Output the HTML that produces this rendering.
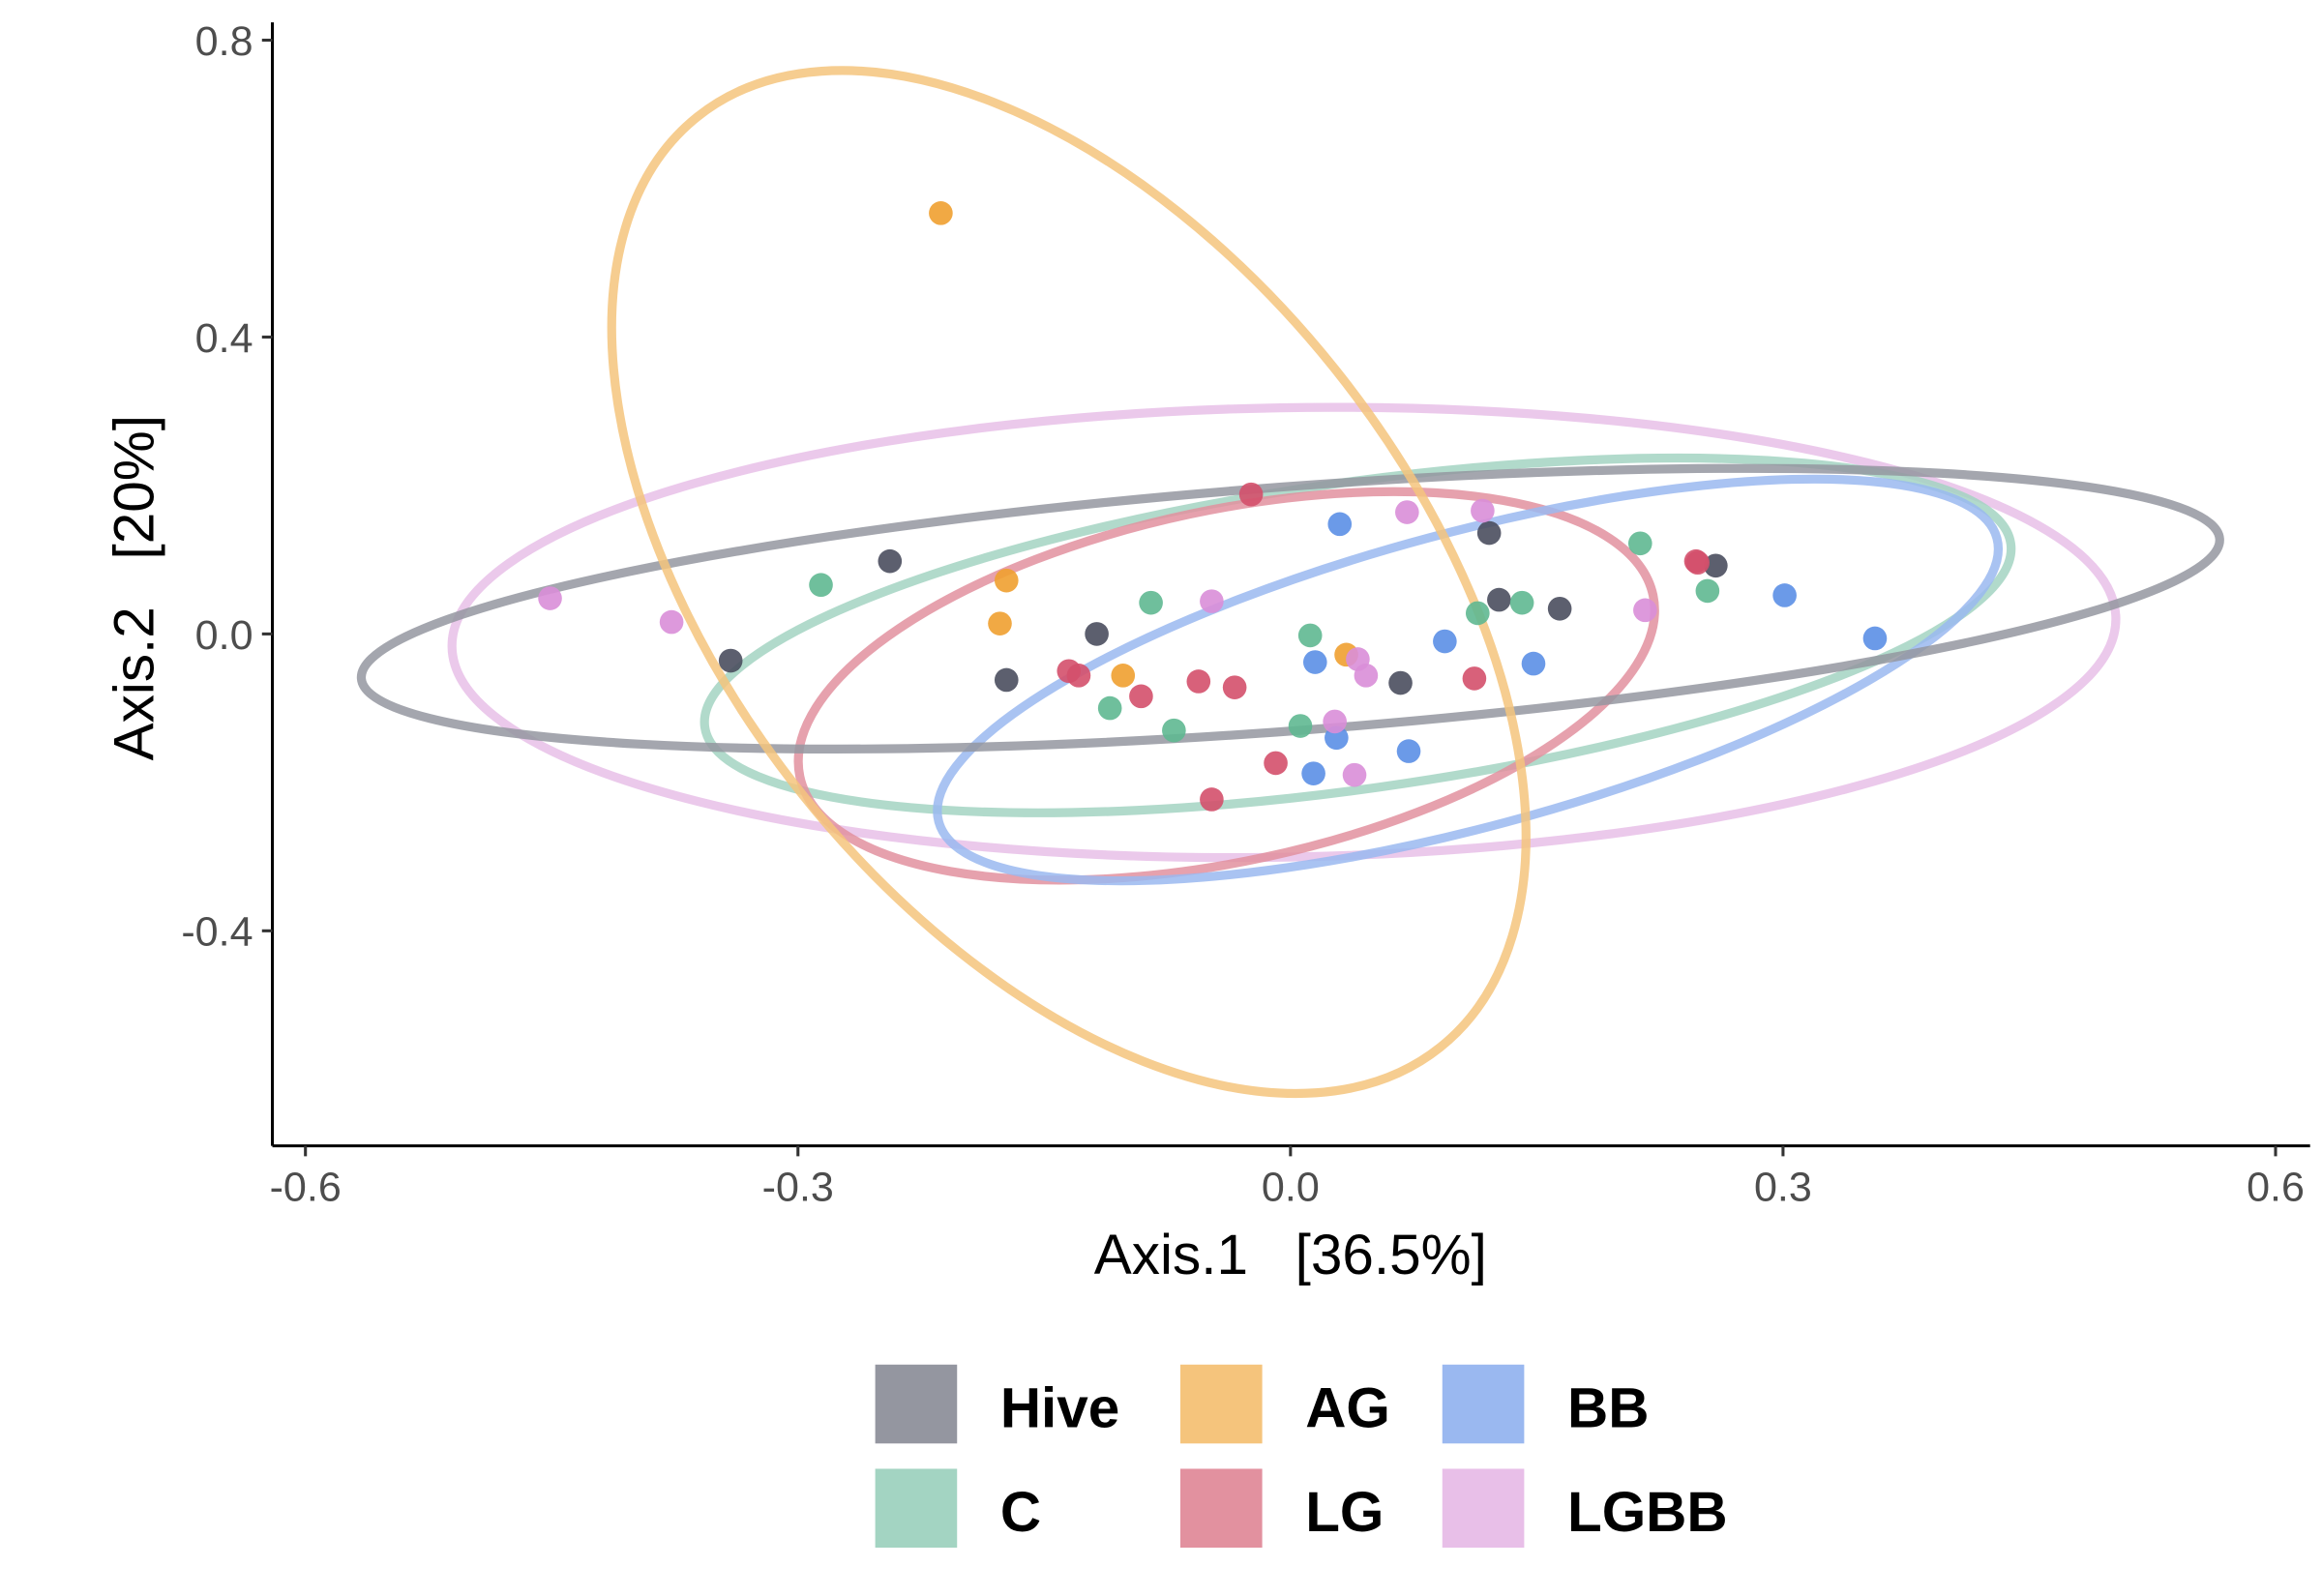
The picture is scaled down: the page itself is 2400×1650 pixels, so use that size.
<!DOCTYPE html>
<html><head><meta charset="utf-8"><style>
html,body{margin:0;padding:0;background:#fff;}
svg{display:block;font-family:"Liberation Sans",Arial,sans-serif;}
.pre{white-space:pre;}
</style></head><body>
<svg id="chart" width="2400" height="1650" viewBox="0 0 1560 1072.5" preserveAspectRatio="none" xmlns="http://www.w3.org/2000/svg">
<g id="ellipses"></g>
<g id="points"></g>
<g id="axes"></g>
<g id="legend"></g>
</svg>
<script>
const groups = ["Hive","C","AG","LG","BB","LGBB"];
const pointColors = ["#4a4e5e","#5fb891","#f0a030","#d4506c","#5b8fe6","#d98ed8"];
const swatchColors = ["#9496a0","#a3d4c2","#f5c47c","#e2919f","#9ab8f0","#e8bfe8"];
const hiveX = [-0.244,-0.341,-0.173,-0.118,0.067,0.121,0.127,0.164,0.259];
const hiveY = [0.098,-0.036,-0.062,0,-0.066,0.136,0.046,0.034,0.092];
const cX = [-0.286,-0.085,-0.110,-0.071,0.012,0.006,0.114,0.141,0.213,0.254];
const cY = [0.066,0.042,-0.100,-0.130,-0.002,-0.124,0.028,0.042,0.122,0.058];
const agX = [-0.213,-0.173,-0.177,-0.102,0.034];
const agY = [0.567,0.072,0.014,-0.056,-0.028];
const lgX = [-0.024,-0.135,-0.129,-0.091,-0.056,-0.034,-0.009,-0.048,0.112,0.247,0.248];
const lgY = [0.188,-0.050,-0.056,-0.084,-0.064,-0.072,-0.174,-0.223,-0.060,0.098,0.096];
const bbX = [0.030,0.015,0.028,0.014,0.094,0.072,0.148,0.301,0.356];
const bbY = [0.148,-0.038,-0.140,-0.188,-0.010,-0.158,-0.040,0.052,-0.006];
const lgbbX = [-0.451,-0.377,-0.048,0.071,0.117,0.216,0.027,0.039,0.041,0.046];
const lgbbY = [0.048,0.016,0.044,0.164,0.166,0.032,-0.118,-0.190,-0.034,-0.056];
// ellipse centers (data units)
const ellCX = [0,0.041,-0.135,-0.039,0.108,-0.004];
const ellCY = [0.034,-0.002,0.070,-0.070,-0.062,0.002];
const xTicks = [-0.6,-0.3,0.0,0.3,0.6];
const xTickLabels = ["-0.6","-0.3","0.0","0.3","0.6"];
const yTicks = [0.8,0.4,0.0,-0.4];
const yTickLabels = ["0.8","0.4","0.0","-0.4"];

// shape (px) for ellipses: semi-axes and rotation
const ellA=[626,443,400,293,368,559], ellB=[82,103,229,118,99,151], ellRot=[-4.3,-8,51.4,-12,-15,-1];
const xs = v => 867 + v*1103;
const ys = v => 426 - v*498.75;
const NS="http://www.w3.org/2000/svg";
function mk(tag, attrs, parent){const e=document.createElementNS(NS,tag);for(const k in attrs)e.setAttribute(k,attrs[k]);parent.appendChild(e);return e;}

const eg=document.getElementById('ellipses');
const order=[5,1,3,4,0,2];
order.forEach(i=>{
  const e=mk('ellipse',{cx:xs(ellCX[i]),cy:ys(ellCY[i]),rx:ellA[i],ry:ellB[i],transform:`rotate(${ellRot[i]} ${xs(ellCX[i])} ${ys(ellCY[i])})`,fill:'none',stroke:swatchColors[i],'stroke-width':6,'stroke-opacity':0.85},eg);
  
  
});

const pg=document.getElementById('points');
const allX=[hiveX,cX,agX,lgX,bbX,lgbbX], allY=[hiveY,cY,agY,lgY,bbY,lgbbY];
allX.forEach((arr,g)=>arr.forEach((x,j)=>{
  const c=mk('circle',{cx:xs(x),cy:ys(allY[g][j]),r:8,fill:pointColors[g],'fill-opacity':0.9},pg);
  
  
}));

const ag=document.getElementById('axes');
let l=mk('line',{x1:183,y1:15,x2:183,y2:770,stroke:'#000','stroke-width':2},ag);


l=mk('line',{x1:183,y1:770,x2:1552,y2:770,stroke:'#000','stroke-width':2},ag);


xTicks.forEach((v,i)=>{
  mk('line',{x1:xs(v),y1:770,x2:xs(v),y2:777,stroke:'#333','stroke-width':2},ag);
  const t=mk('text',{x:xs(v),y:807,'text-anchor':'middle','font-size':28,fill:'#4d4d4d'},ag);
  t.textContent=xTickLabels[i];
  
  
});
yTicks.forEach((v,i)=>{
  mk('line',{x1:176,y1:ys(v),x2:183,y2:ys(v),stroke:'#333','stroke-width':2},ag);
  const t=mk('text',{x:170,y:ys(v)+10,'text-anchor':'end','font-size':28,fill:'#4d4d4d'},ag);
  t.textContent=yTickLabels[i];
  
  
});
let t=mk('text',{x:867,y:856,'text-anchor':'middle','font-size':38,fill:'#000',class:'pre'},ag);
t.textContent='Axis.1   [36.5%]';


t=mk('text',{x:0,y:0,'text-anchor':'middle','font-size':38,fill:'#000',class:'pre',transform:'translate(103,395) rotate(-90)'},ag);
t.textContent='Axis.2   [20%]';



const lg=document.getElementById('legend');
const colX=[588,793,969], rowY=[917,987];
const layout=[[0,0],[0,1],[1,0],[1,1],[2,0],[2,1]];
groups.forEach((g,i)=>{
  const [c,r]=layout[i];
  const s=mk('rect',{x:colX[c],y:rowY[r],width:55,height:53,fill:swatchColors[i]},lg);
  
  
  const tx=mk('text',{x:colX[c]+84,y:rowY[r]+42,'font-size':38,'font-weight':'bold',fill:'#000'},lg);
  tx.textContent=g;
  
  
});
</script>
</body></html>
